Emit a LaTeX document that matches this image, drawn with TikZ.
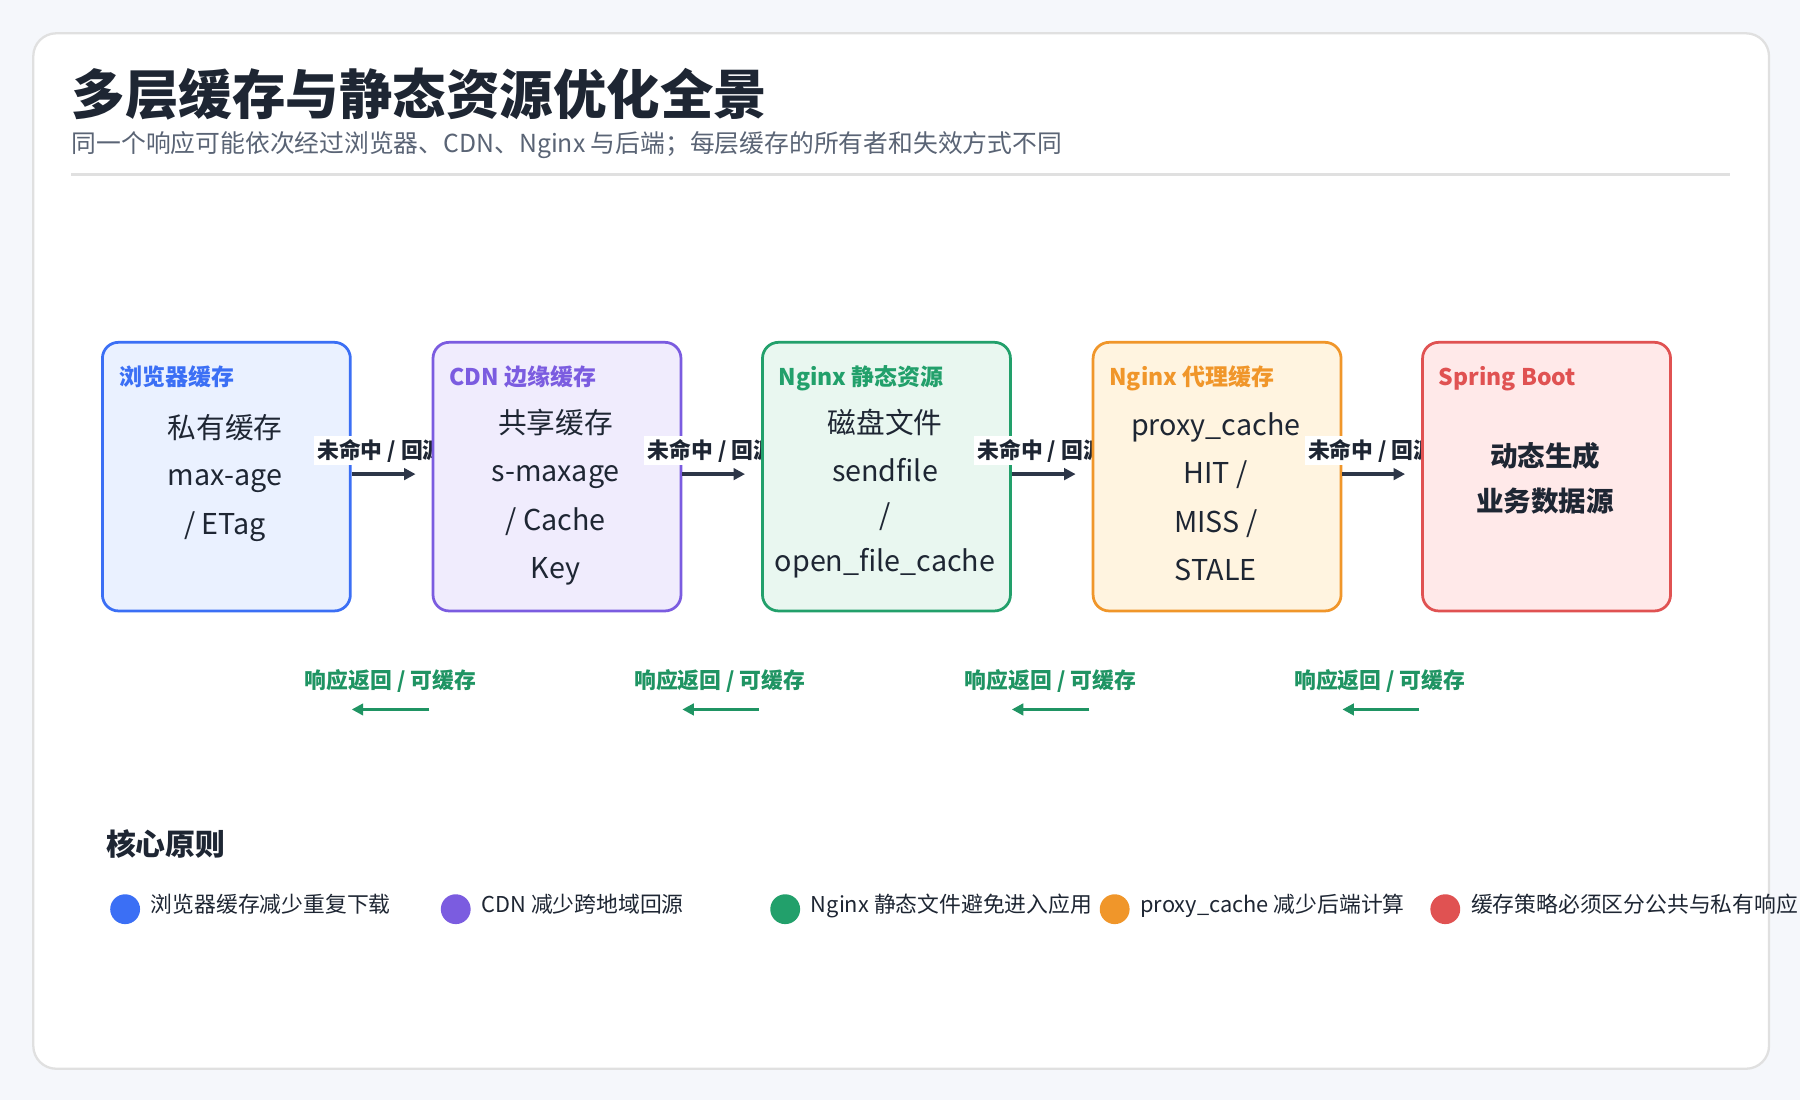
\documentclass[tikz,border=0pt]{standalone}
\usepackage{fontspec}
\setmainfont{Noto Sans CJK SC}
\usetikzlibrary{arrows.meta}
\definecolor{bgc}{HTML}{F5F7FB}
\definecolor{dark}{HTML}{1E2633}
\definecolor{sub}{HTML}{5A6475}
\definecolor{arr}{HTML}{2D3648}
\definecolor{bB}{HTML}{3B6FF5}\definecolor{fB}{HTML}{EAF1FF}
\definecolor{bP}{HTML}{7B5CE0}\definecolor{fP}{HTML}{F0ECFD}
\definecolor{bG}{HTML}{22A06B}\definecolor{fG}{HTML}{E9F7F0}
\definecolor{bO}{HTML}{F0962A}\definecolor{fO}{HTML}{FFF4E0}
\definecolor{bR}{HTML}{E05252}\definecolor{fR}{HTML}{FFE9E9}
\definecolor{gr}{HTML}{1F9463}
\tikzset{
 box/.style={draw=#1,line width=1.2pt,rounded corners=7pt,minimum width=108pt,minimum height=117pt,anchor=north west},
 btitle/.style={anchor=base west,inner sep=0,font=\bfseries\fontsize{10}{12}\selectfont},
 line/.style={anchor=base,font=\fontsize{12.5}{14}\selectfont,text=dark},
 fwd/.style={-{Triangle[length=5pt,width=5pt]},draw=arr,line width=1.5pt},
 flab/.style={anchor=base west,fill=white,inner sep=1.5pt,font=\bfseries\fontsize{9.5}{11}\selectfont,text=dark},
 rlab/.style={anchor=base,font=\bfseries\fontsize{9.5}{11}\selectfont,text=gr},
 back/.style={-{Triangle[length=5pt,width=5pt]},draw=gr,line width=1.5pt},
 leg/.style={anchor=base west,inner sep=0,font=\fontsize{9.5}{12}\selectfont,text=dark},
}
\begin{document}
\begin{tikzpicture}[x=0.5pt,y=-0.5pt]
\useasboundingbox[fill=bgc] (0,0) rectangle (1568,958);
\node[draw=black!12,line width=1pt,fill=white,rounded corners=10pt,minimum width=756pt,minimum height=451pt,anchor=north west,inner sep=0] (card) at (28,28) {};
\node[anchor=base west,font=\bfseries\fontsize{23.3}{28}\selectfont,text=dark,inner sep=0] (title) at (62,100) {多层缓存与静态资源优化全景};
\node[anchor=base west,font=\fontsize{10.8}{12}\selectfont,text=sub,inner sep=0] (subt) at (62,133) {同一个响应可能依次经过浏览器、CDN、Nginx 与后端；每层缓存的所有者和失效方式不同};
\coordinate (l1) at (62,152); \coordinate (l2) at (1507,152);
\draw[black!12,line width=1pt] (l1) -- (l2);
\node[box=bB,fill=fB] (b1) at (88,297) {};
\node[flab] at (273,399) {未命中 / 回源};
\node[box=bP,fill=fP] (b2) at (376,297) {};
\node[flab] at (561,399) {未命中 / 回源};
\node[box=bG,fill=fG] (b3) at (663,297) {};
\node[flab] at (848,399) {未命中 / 回源};
\node[box=bO,fill=fO] (b4) at (951,297) {};
\node[flab] at (1136,399) {未命中 / 回源};
\node[box=bR,fill=fR] (b5) at (1238,297) {};
\node[btitle,text=bB] at (104,336) {浏览器缓存};
\node[btitle,text=bP] at (391,336) {CDN 边缘缓存};
\node[btitle,text=bG] at (678,336) {Nginx 静态资源};
\node[btitle,text=bO] at (966,336) {Nginx 代理缓存};
\node[btitle,text=bR] at (1253,336) {Spring Boot};
\node[line] at (196,382) {私有缓存};
\node[line] at (196,423) {max-age};
\node[line] at (196,466) {/ ETag};
\node[line] at (484,378) {共享缓存};
\node[line] at (484,419) {s-maxage};
\node[line] at (484,462) {/ Cache};
\node[line] at (484,504) {Key};
\node[line] at (771,378) {磁盘文件};
\node[line] at (771,419) {sendfile};
\node[line] at (771,458) {/};
\node[line] at (771,498) {open\_file\_cache};
\node[line] at (1059,379) {proxy\_cache};
\node[line] at (1059,421) {HIT /};
\node[line] at (1059,464) {MISS /};
\node[line] at (1059,506) {STALE};
\node[line,font=\bfseries\fontsize{12}{14}\selectfont] at (1346,406) {动态生成};
\node[line,font=\bfseries\fontsize{12}{14}\selectfont] at (1346,446) {业务数据源};
\foreach \a/\b in {b1/b2,b2/b3,b3/b4,b4/b5}{
 \draw[fwd] (\a.east|-0,413) -- ([xshift=-7pt]\b.west|-0,413);
 \draw[back] ([xshift=-1pt]\b.west|-0,618) -- ([xshift=0pt]\a.east|-0,618);
}
\foreach \x in {340,627,915,1202}{\node[rlab] at (\x,600) {响应返回 / 可缓存};}
\node[anchor=base west,inner sep=0,font=\bfseries\fontsize{13}{15}\selectfont,text=dark] (kh) at (92,745) {核心原则};
\foreach \x/\c/\t in {109/bB/浏览器缓存减少重复下载,397/bP/CDN 减少跨地域回源,684/bG/Nginx 静态文件避免进入应用,971/bO/proxy\_cache 减少后端计算,1259/bR/缓存策略必须区分公共与私有响应}{
 \fill[\c] (\x,792) circle (6.5pt);
 \node[leg] at (\x+22,795) {\t};
}
\end{tikzpicture}
\end{document}
